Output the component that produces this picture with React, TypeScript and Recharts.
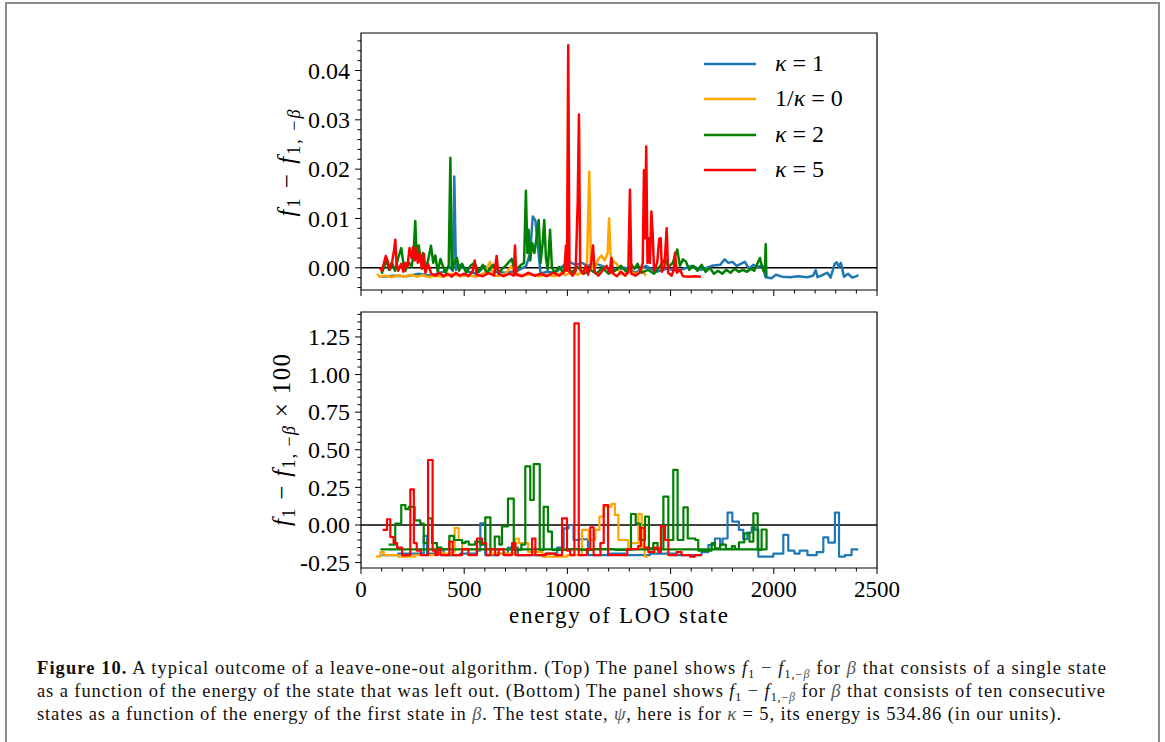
import React from 'react';
import { LineChart, Line, XAxis, YAxis, ReferenceLine, ReferenceArea, Legend } from 'recharts';

// Top panel: beta = single state, [energy of LOO state, f1 - f1,-beta]
const topKappa1 = [
  [100, -0.0018], [160, -0.0016], [220, -0.0017], [280, -0.0012], [340, -0.0016], [400, -0.0008],
  [430, 0.0002], [445, -0.0006], [452, 0.0185], [460, -0.0004], [480, 0.0006], [520, -0.0008],
  [560, -0.0012], [600, 0.0003], [640, -0.0008], [700, -0.001], [760, -0.0006], [800, 0.0004],
  [820, 0.003], [832, 0.0104], [845, 0.0096], [858, 0.004], [870, -0.0012], [900, -0.0008],
  [940, -0.001], [980, 0.0004], [1010, 0.0012], [1040, 0.0006], [1070, 0.001], [1100, 0.0004],
  [1140, 0.0008], [1180, 0.0002], [1220, -0.0006], [1280, 0.0], [1330, -0.001], [1380, 0.0004],
  [1430, -0.0008], [1480, -0.0002], [1540, -0.0006], [1600, 0.0004], [1650, -0.0004], [1700, 0.0004],
  [1740, 0.0006], [1762, 0.0017], [1780, 0.001], [1800, 0.0012], [1820, 0.0004], [1840, 0.0008],
  [1860, 0.0012], [1880, -0.0002], [1900, 0.0006], [1920, 0.0002], [1945, 0.0004], [1960, -0.0019],
  [1990, -0.0021], [2010, -0.0014], [2040, -0.0018], [2080, -0.0019], [2120, -0.0017], [2160, -0.0019],
  [2190, -0.0016], [2203, -0.0005], [2212, -0.0019], [2240, -0.0014], [2260, -0.001], [2275, -0.002],
  [2295, 0.0008], [2305, 0.0011], [2315, 0.0002], [2325, 0.001], [2340, -0.0018], [2360, -0.0012],
  [2380, -0.002], [2395, -0.0018], [2410, -0.0015],
];
const topInvKappa0 = [
  [78, -0.0012], [90, -0.0018], [120, -0.0016], [150, -0.0019], [180, -0.0015], [210, -0.0018],
  [240, -0.0014], [270, -0.0018], [300, -0.0015], [330, -0.0019], [360, -0.0016], [400, -0.0018],
  [440, -0.0012], [480, -0.0017], [520, -0.0015], [560, -0.0018], [600, -0.001], [625, 0.0012],
  [640, -0.0014], [660, -0.0017], [700, -0.0012], [730, 0.0004], [745, -0.001], [780, -0.0016],
  [820, -0.0013], [860, -0.0017], [900, -0.0014], [940, -0.0017], [970, -0.001], [990, -0.0015],
  [1020, -0.0008], [1050, -0.0014], [1080, -0.0005], [1095, 0.001], [1106, 0.0195], [1114, 0.0008],
  [1130, -0.0004], [1150, 0.0018], [1165, 0.0025], [1180, 0.0015], [1195, 0.003], [1202, 0.01],
  [1210, 0.0022], [1225, 0.0012], [1240, 0.0008], [1255, -0.001], [1280, -0.0016], [1305, -0.0006],
  [1330, -0.0014], [1360, -0.0004], [1380, -0.0016],
];
const topKappa2 = [
  [100, -0.0012], [115, 0.0005], [125, 0.0017], [135, -0.0004], [150, 0.001], [165, -0.0006],
  [180, 0.002], [195, 0.004], [205, 0.001], [215, -0.0006], [230, 0.0012], [245, 0.0002],
  [255, 0.003], [263, 0.0095], [270, 0.002], [280, 0.0045], [290, 0.001], [300, 0.003],
  [310, -0.0004], [325, 0.0015], [339, 0.0045], [350, 0.001], [360, 0.0025], [372, -0.0008],
  [385, 0.0018], [398, 0.0002], [410, -0.001], [425, 0.0006], [433, 0.0223], [440, -0.0004],
  [455, 0.0012], [465, 0.002], [475, -0.0006], [490, 0.0008], [510, -0.001], [530, 0.0004],
  [550, 0.001], [570, -0.0008], [590, 0.0006], [610, -0.001], [640, 0.0006], [670, -0.0008],
  [700, 0.0004], [730, 0.0018], [745, -0.0006], [770, 0.0004], [790, 0.001], [799, 0.0156],
  [806, 0.003], [812, 0.0077], [820, 0.0015], [830, 0.005], [840, 0.003], [850, 0.006],
  [861, 0.0097], [870, 0.001], [880, 0.005], [888, 0.0097], [896, 0.002], [905, -0.0004],
  [916, 0.0077], [925, 0.0], [940, -0.001], [960, 0.0002], [980, -0.001], [1000, 0.0004],
  [1020, -0.001], [1050, 0.0002], [1080, -0.0012], [1110, -0.0004], [1140, -0.0012], [1170, 0.0],
  [1200, -0.0012], [1230, -0.0006], [1260, 0.0004], [1285, -0.0008], [1310, 0.0006], [1325, -0.0002],
  [1340, 0.0008], [1360, -0.001], [1390, -0.0004], [1420, -0.0012], [1450, 0.0004], [1473, 0.0018],
  [1490, 0.0002], [1510, 0.001], [1532, 0.0037], [1545, 0.0004], [1560, 0.0017], [1575, 0.0012],
  [1590, -0.0004], [1610, 0.0004], [1630, -0.0006], [1650, 0.0006], [1670, -0.0008], [1690, 0.0],
  [1710, -0.0012], [1730, -0.0006], [1750, -0.0012], [1770, -0.0004], [1790, -0.001], [1810, -0.0002],
  [1830, -0.0008], [1850, -0.0004], [1870, -0.0008], [1890, -0.0002], [1905, -0.0006], [1920, 0.0008],
  [1933, 0.002], [1942, 0.0004], [1950, -0.0006], [1957, -0.0004], [1961, 0.0048], [1964, -0.0018],
];
const topKappa5 = [
  [92, 0.0], [100, -0.0006], [110, 0.0008], [120, 0.0024], [130, 0.0012], [140, -0.0004],
  [150, 0.001], [160, 0.0035], [166, 0.0057], [172, 0.001], [180, -0.0006], [195, 0.0008],
  [205, -0.0008], [215, 0.001], [225, 0.0002], [235, 0.004], [245, 0.002], [252, 0.0042],
  [260, 0.0015], [268, 0.004], [275, 0.001], [285, 0.003], [295, -0.0002], [305, 0.0028],
  [312, -0.001], [325, 0.0008], [340, -0.0012], [360, -0.0016], [380, -0.001], [400, -0.0017],
  [420, -0.0012], [440, -0.0018], [460, -0.001], [480, -0.0016], [500, -0.0012], [520, -0.0017],
  [540, -0.0008], [551, 0.0015], [560, -0.0014], [590, -0.0017], [620, -0.0011], [645, -0.0016],
  [657, 0.0024], [665, -0.0012], [690, -0.0017], [720, -0.0012], [740, -0.0016], [746, 0.0045],
  [752, -0.0014], [780, -0.0017], [810, -0.001], [840, -0.0016], [870, -0.0012], [900, -0.0017],
  [930, -0.001], [960, -0.0016], [985, -0.0008], [993, 0.0045], [998, -0.0006], [1004, 0.0451],
  [1010, -0.0008], [1025, -0.0016], [1040, -0.0006], [1050, 0.0134], [1056, 0.0311], [1062, -0.0004],
  [1075, -0.0012], [1090, 0.0005], [1100, -0.0014], [1115, 0.001], [1124, 0.0045], [1132, -0.0008],
  [1150, -0.0016], [1170, -0.0006], [1190, 0.0004], [1205, -0.001], [1213, 0.002], [1222, -0.0012],
  [1240, -0.0017], [1260, -0.0008], [1280, -0.0016], [1295, -0.0008], [1303, 0.0158], [1310, -0.0012],
  [1330, -0.0016], [1350, -0.001], [1365, 0.001], [1371, 0.0198], [1376, 0.006], [1382, 0.0246],
  [1388, 0.001], [1395, 0.006], [1400, 0.001], [1407, 0.0114], [1413, 0.007], [1420, -0.0006],
  [1435, 0.001], [1445, 0.0059], [1452, 0.006], [1458, -0.0008], [1470, 0.0002], [1481, 0.008],
  [1488, -0.001], [1505, -0.0016], [1515, -0.0004], [1521, 0.003], [1530, -0.001], [1545, -0.0004],
  [1560, -0.0017], [1590, -0.0018], [1620, -0.0017], [1647, -0.0018],
];

// Bottom panel: beta = ten consecutive states, (f1 - f1,-beta) x 100, step edges
const botKappa1 = [
  [100, -0.2], [180, -0.19], [290, -0.19], [304, -0.073], [320, -0.19], [370, -0.16], [400, -0.2],
  [480, -0.19], [560, -0.17], [578, 0.011], [602, -0.2], [660, -0.19], [712, -0.15], [760, -0.2],
  [900, -0.19], [950, -0.15], [982, -0.022], [1006, 0.0], [1030, -0.1], [1055, -0.095], [1100, -0.2],
  [1200, -0.19], [1280, -0.2], [1400, -0.19], [1520, -0.2], [1650, -0.18], [1683, -0.133],
  [1715, -0.09], [1740, -0.13], [1752, -0.09], [1776, 0.082], [1799, 0.022], [1831, -0.033],
  [1852, -0.095], [1872, -0.05], [1893, -0.015], [1910, -0.033], [1925, -0.21], [1998, -0.19],
  [2046, -0.066], [2070, -0.17], [2100, -0.19], [2125, -0.17], [2163, -0.2], [2208, -0.18],
  [2240, -0.082], [2264, -0.117], [2296, 0.082], [2316, -0.21], [2345, -0.2], [2377, -0.162],
  [2409, -0.162],
];
const botInvKappa0 = [
  [73, -0.21], [94, -0.18], [110, -0.2], [180, -0.21], [260, -0.2], [360, -0.19], [440, -0.18],
  [454, -0.02], [473, -0.1], [490, -0.16], [600, -0.16], [630, -0.19], [748, -0.09], [765, -0.12],
  [810, -0.18], [880, -0.21], [1000, -0.2], [1071, -0.033], [1103, -0.1], [1135, -0.033],
  [1155, 0.055], [1176, 0.122], [1213, 0.14], [1230, 0.067], [1247, -0.1], [1295, -0.16],
  [1308, -0.12], [1344, 0.073], [1360, -0.16], [1375, -0.21], [1392, -0.21],
];
const botKappa2 = [
  [134, -0.13], [166, 0.01], [195, 0.133], [215, 0.106], [231, 0.12], [260, 0.03], [287, 0.01],
  [304, -0.12], [325, 0.044], [344, -0.12], [368, -0.15], [390, -0.16], [428, -0.073], [450, -0.1],
  [490, -0.12], [505, -0.11], [522, -0.13], [554, -0.11], [578, -0.13], [602, 0.05], [627, -0.16],
  [648, -0.078], [670, -0.13], [683, -0.01], [712, 0.175], [740, -0.165], [777, -0.13], [796, 0.39],
  [820, 0.166], [837, 0.405], [866, -0.165], [885, 0.12], [906, -0.044], [925, -0.165], [1000, -0.16],
  [1060, -0.165], [1130, -0.16], [1230, -0.165], [1308, 0.073], [1331, 0.01], [1352, -0.1],
  [1376, 0.055], [1395, -0.155], [1416, -0.12], [1437, -0.162], [1465, 0.188], [1489, -0.1],
  [1513, 0.366], [1534, -0.1], [1562, 0.117], [1583, -0.09], [1620, -0.1], [1634, -0.17],
  [1680, -0.17], [1699, -0.12], [1715, -0.155], [1740, -0.13], [1768, -0.16], [1797, -0.14],
  [1812, -0.16], [1831, -0.115], [1857, -0.055], [1882, -0.11], [1901, 0.078], [1922, -0.165],
  [1941, -0.03], [1965, -0.162], [94, -0.162],
];
const botKappa5 = [
  [105, -0.033], [126, 0.038], [142, -0.08], [158, -0.12], [175, -0.15], [199, -0.2], [239, 0.237],
  [256, -0.12], [270, -0.17], [290, -0.2], [325, 0.432], [347, -0.17], [360, -0.2], [372, -0.16],
  [385, -0.2], [428, -0.11], [444, -0.2], [490, -0.16], [520, -0.2], [562, -0.09], [586, -0.12],
  [606, -0.2], [627, -0.16], [650, -0.2], [667, -0.16], [691, -0.2], [732, -0.12], [748, -0.2],
  [829, -0.09], [845, -0.2], [893, -0.19], [942, -0.2], [974, 0.044], [998, -0.17], [1014, -0.2],
  [1034, 1.34], [1055, -0.2], [1095, -0.16], [1111, -0.015], [1127, -0.2], [1160, -0.12],
  [1176, 0.133], [1197, -0.2], [1290, -0.16], [1343, -0.14], [1356, -0.02], [1373, -0.15],
  [1392, -0.18], [1421, -0.15], [1441, -0.18], [1453, -0.007], [1473, -0.1], [1489, -0.2],
  [1529, -0.18], [1553, -0.2], [1594, -0.21], [1618, -0.2], [1647, -0.2],
];

const seriesNames = ['κ = 1', '1/κ = 0', 'κ = 2', 'κ = 5'];
const seriesColors = ['#1f77b4', '#ffa500', '#008000', '#ff0000'];

const xTicks = Array.from({ length: 26 }, (_, i) => i * 100);
const topYTicks = Array.from({ length: 26 }, (_, i) => (i * 2 - 4) / 1000);
const botYTicks = Array.from({ length: 34 }, (_, i) => ((i - 5) * 5) / 100);
const topDomain = [-0.0045, 0.0476];
const botDomain = [-0.286, 1.416];

const SERIF = '"Liberation Serif", "Times New Roman", serif';

const toRows = (pts: number[][]) => pts.map(([e, v]) => ({ e, v }));

const XTick = (props: any) => {
  const { x, y, payload, showLabel } = props;
  const v = payload.value;
  const major = v % 500 === 0;
  return (
    <g>
      <line x1={x} x2={x} y1={y} y2={y + (major ? 6 : 3.5)} stroke="#000" strokeWidth={1} />
      {major && showLabel && (
        <text x={x} y={y + 29} textAnchor="middle" fontSize={23} fontFamily={SERIF} fill="#000">
          {v}
        </text>
      )}
    </g>
  );
};

const YTick = (props: any) => {
  const { x, y, payload, major } = props;
  const v = payload.value;
  const isMajor = major(v);
  return (
    <g>
      <line x1={x} x2={x - (isMajor ? 6 : 3.5)} y1={y} y2={y} stroke="#000" strokeWidth={1} />
      {isMajor && (
        <text x={x - 11} y={y} dy="0.34em" textAnchor="end" fontSize={24} fontFamily={SERIF} fill="#000">
          {v.toFixed(2)}
        </text>
      )}
    </g>
  );
};

const YLabel = ({ cx, cy, len, times }: { cx: number; cy: number; len: number; times?: boolean }) => (
  <text
    transform={`translate(${cx},${cy}) rotate(-90)`}
    textAnchor="middle"
    fontSize={25}
    fontFamily={SERIF}
    fill="#000"
    textLength={len}
    lengthAdjust="spacing"
  >
    <tspan fontStyle="italic">f</tspan>
    <tspan fontSize={18} dy={5}>1</tspan>
    <tspan dy={-5}> − </tspan>
    <tspan fontStyle="italic">f</tspan>
    <tspan fontSize={18} dy={5}>1, −</tspan>
    <tspan fontSize={18} fontStyle="italic">β</tspan>
    <tspan dy={-5}>{times ? ' × 100' : ''}</tspan>
  </text>
);

// x label in coords of the bottom chart (chart top is at 300)
const XLabel = () => (
  <text x={618.5} y={323} textAnchor="middle" fontSize={23} fontFamily={SERIF} fill="#000" textLength={219} lengthAdjust="spacing">
    energy of LOO state
  </text>
);

const LegendBox = () => (
  <div style={{ fontFamily: SERIF }}>
    {seriesNames.map((n, i) => (
      <div key={n} style={{ height: 35.5, display: 'flex', alignItems: 'center' }}>
        <svg width={52} height={4} style={{ display: 'block' }}>
          <line x1={0} x2={52} y1={2} y2={2} stroke={seriesColors[i]} strokeWidth={2.4} />
        </svg>
        <svg width={110} height={32} style={{ display: 'block', marginLeft: 19 }}>
          <text x={0} y={23} fontSize={24} fontFamily={SERIF} fill="#000">
            {i === 1 ? (
              <>
                1/<tspan fontStyle="italic">κ</tspan> = 0
              </>
            ) : (
              <>
                <tspan fontStyle="italic">κ</tspan> = {n.slice(-1)}
              </>
            )}
          </text>
        </svg>
      </div>
    ))}
  </div>
);

const topData = [topKappa1, topInvKappa0, topKappa2, topKappa5].map(toRows);
const botData = [botKappa1, botInvKappa0, botKappa2, botKappa5].map(toRows);

const F1Diff = () => (
  <>
    <tspan fontStyle="italic">f</tspan>
    <tspan fontSize={12} dy={4}>1</tspan>
    <tspan dy={-4}> − </tspan>
    <tspan fontStyle="italic">f</tspan>
    <tspan fontSize={12} dy={4}>1,−</tspan>
    <tspan fontSize={12} dy={0} fontStyle="italic" fill="#555">β</tspan>
    <tspan dy={-4}> </tspan>
  </>
);

const Caption = () => (
  <svg width={1165} height={100} style={{ position: 'absolute', left: 0, top: 640 }}>
    <g fontFamily={SERIF} fontSize={18.5} fill="#111">
      <text x={37} y={34} textLength={1069} lengthAdjust="spacing">
        <tspan fontWeight="bold">Figure 10.</tspan>
        {'   A typical outcome of a leave-one-out algorithm. (Top) The panel shows '}
        <F1Diff />
        {'for '}
        <tspan fontStyle="italic" fill="#555">β</tspan>
        {' that consists of a single state'}
      </text>
      <text x={37} y={57} textLength={1068} lengthAdjust="spacing">
        {'as a function of the energy of the state that was left out. (Bottom) The panel shows '}
        <F1Diff />
        {'for '}
        <tspan fontStyle="italic" fill="#555">β</tspan>
        {' that consists of ten consecutive'}
      </text>
      <text x={37} y={80} textLength={1024} lengthAdjust="spacing">
        {'states as a function of the energy of the first state in '}
        <tspan fontStyle="italic" fill="#555">β</tspan>
        {'. The test state, '}
        <tspan fontStyle="italic" fill="#555">ψ</tspan>
        {', here is for '}
        <tspan fontStyle="italic" fill="#555">κ</tspan>
        {' = 5, its energy is 534.86 (in our units).'}
      </text>
    </g>
  </svg>
);

const App = () => {
  return (
    <div style={{ position: 'absolute', left: 0, top: 0, width: 1165, height: 742, background: '#fff', overflow: 'hidden' }}>
      <div style={{ position: 'absolute', left: 5, top: 2, width: 1151, height: 800, border: '2px solid #8c8c8c' }} />

      {/* top panel */}
      <div style={{ position: 'absolute', left: 0, top: 0 }}>
        <LineChart width={1165} height={300} margin={{ top: 33, right: 288, bottom: 0, left: 301 }}>
          <XAxis
            dataKey="e"
            type="number"
            domain={[0, 2500]}
            ticks={xTicks}
            interval={0}
            height={10}
            axisLine={false}
            tickLine={false}
            tickSize={0}
            tickMargin={0}
            tick={(p: any) => <XTick {...p} showLabel={false} />}
            allowDataOverflow
          />
          <YAxis
            type="number"
            domain={topDomain}
            ticks={topYTicks}
            interval={0}
            width={60}
            axisLine={false}
            tickLine={false}
            tickSize={0}
            tickMargin={0}
            tick={(p: any) => <YTick {...p} major={(v: number) => Math.round(v * 1000) % 10 === 0} />}
            label={<YLabel cx={295} cy={163} len={107} />}
            allowDataOverflow
          />
          <ReferenceArea x1={0} x2={2500} y1={topDomain[0]} y2={topDomain[1]} fill="none" stroke="#000" strokeWidth={1.2} ifOverflow="visible" />
          <ReferenceLine y={0} stroke="#000" strokeWidth={1.4} />
          {topData.map((d, i) => (
            <Line
              key={seriesNames[i]}
              data={d}
              dataKey="v"
              name={seriesNames[i]}
              type="linear"
              stroke={seriesColors[i]}
              strokeWidth={2.5}
              strokeLinejoin="round"
              dot={false}
              isAnimationActive={false}
            />
          ))}
          <Legend
            layout="vertical"
            align="center"
            verticalAlign="middle"
            wrapperStyle={{ left: 704, top: 46, width: 180 }}
            content={() => <LegendBox />}
          />
        </LineChart>
      </div>

      {/* bottom panel */}
      <div style={{ position: 'absolute', left: 0, top: 300 }}>
        <LineChart width={1165} height={340} margin={{ top: 12, right: 288, bottom: 0, left: 301 }}>
          <XAxis
            dataKey="e"
            type="number"
            domain={[0, 2500]}
            ticks={xTicks}
            interval={0}
            height={72}
            axisLine={false}
            tickLine={false}
            tickSize={0}
            tickMargin={0}
            tick={(p: any) => <XTick {...p} showLabel />}
            label={<XLabel />}
            allowDataOverflow
          />
          <YAxis
            type="number"
            domain={botDomain}
            ticks={botYTicks}
            interval={0}
            width={60}
            axisLine={false}
            tickLine={false}
            tickSize={0}
            tickMargin={0}
            tick={(p: any) => <YTick {...p} major={(v: number) => Math.round(v * 100) % 25 === 0} />}
            label={<YLabel cx={290} cy={140} len={172} times />}
            allowDataOverflow
          />
          <ReferenceArea x1={0} x2={2500} y1={botDomain[0]} y2={botDomain[1]} fill="none" stroke="#000" strokeWidth={1.2} ifOverflow="visible" />
          <ReferenceLine y={0} stroke="#000" strokeWidth={1.4} />
          {botData.map((d, i) => (
            <Line
              key={seriesNames[i]}
              data={d}
              dataKey="v"
              name={seriesNames[i]}
              type="stepAfter"
              stroke={seriesColors[i]}
              strokeWidth={2.2}
              strokeLinejoin="round"
              dot={false}
              isAnimationActive={false}
            />
          ))}
        </LineChart>
      </div>

      <Caption />
    </div>
  );
};

export default App;
